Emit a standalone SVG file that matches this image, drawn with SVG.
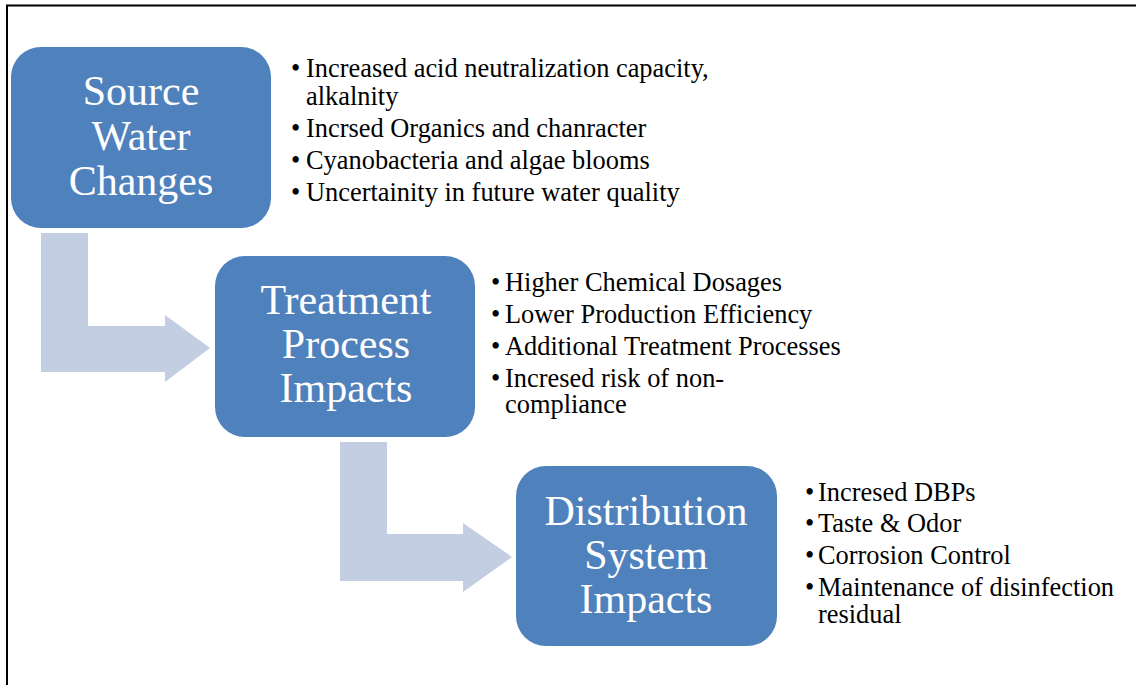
<svg xmlns="http://www.w3.org/2000/svg" width="1136" height="685" viewBox="0 0 1136 685">
  <style>
    .box { fill: #4F81BD; }
    .flow { fill: #C4CEE2; }
    .title { font-family: 'Liberation Serif', 'Times New Roman', serif; font-size: 42px; fill: #FFFFFF; text-anchor: middle; }
    .item { font-family: 'Liberation Serif', 'Times New Roman', serif; font-size: 26.4px; fill: #000000; }
    .frame { stroke: #000000; stroke-width: 2; fill: none; }
  </style>
  <rect width="1136" height="685" fill="#FFFFFF"/>
  <path class="frame" d="M7,685 V5.5 H1136"/>

  <!-- bent arrows between stages -->
  <g id="connectors">
    <path class="flow" d="M41,233 H88 V326 H165 V315 L210,348 L165,382 V372 H41 Z"/>
    <path class="flow" d="M340,442 H387 V534 H463 V523 L512,557 L463,592 V581 H340 Z"/>
  </g>

  <g id="source">
    <rect class="box" x="11" y="47" width="260" height="181" rx="30"/>
    <text class="title" x="141" y="105">Source</text>
    <text class="title" x="141" y="150">Water</text>
    <text class="title" x="141" y="195">Changes</text>
  </g>
  <g id="source-notes">
    <text class="item" x="291" y="77">•</text><text class="item" x="306" y="77">Increased acid neutralization capacity,</text>
    <text class="item" x="306" y="105">alkalnity</text>
    <text class="item" x="291" y="137">•</text><text class="item" x="306" y="137">Incrsed Organics and chanracter</text>
    <text class="item" x="291" y="169">•</text><text class="item" x="306" y="169">Cyanobacteria and algae blooms</text>
    <text class="item" x="291" y="201">•</text><text class="item" x="306" y="201">Uncertainity in future water quality</text>
  </g>

  <g id="treatment">
    <rect class="box" x="215" y="256" width="260" height="181" rx="30"/>
    <text class="title" x="346" y="314">Treatment</text>
    <text class="title" x="346" y="358">Process</text>
    <text class="title" x="346" y="402">Impacts</text>
  </g>
  <g id="treatment-notes">
    <text class="item" x="491" y="291">•</text><text class="item" x="505" y="291">Higher Chemical Dosages</text>
    <text class="item" x="491" y="323">•</text><text class="item" x="505" y="323">Lower Production Efficiency</text>
    <text class="item" x="491" y="355">•</text><text class="item" x="505" y="355">Additional Treatment Processes</text>
    <text class="item" x="491" y="387">•</text><text class="item" x="505" y="387">Incresed risk of non-</text>
    <text class="item" x="505" y="413">compliance</text>
  </g>

  <g id="distribution">
    <rect class="box" x="516" y="466" width="261" height="180" rx="30"/>
    <text class="title" x="646" y="525">Distribution</text>
    <text class="title" x="646" y="569">System</text>
    <text class="title" x="646" y="613">Impacts</text>
  </g>
  <g id="distribution-notes">
    <text class="item" x="805" y="501">•</text><text class="item" x="818" y="501">Incresed DBPs</text>
    <text class="item" x="805" y="532">•</text><text class="item" x="818" y="532">Taste &amp; Odor</text>
    <text class="item" x="805" y="564">•</text><text class="item" x="818" y="564">Corrosion Control</text>
    <text class="item" x="805" y="596">•</text><text class="item" x="818" y="596">Maintenance of disinfection</text>
    <text class="item" x="818" y="623">residual</text>
  </g>
</svg>
